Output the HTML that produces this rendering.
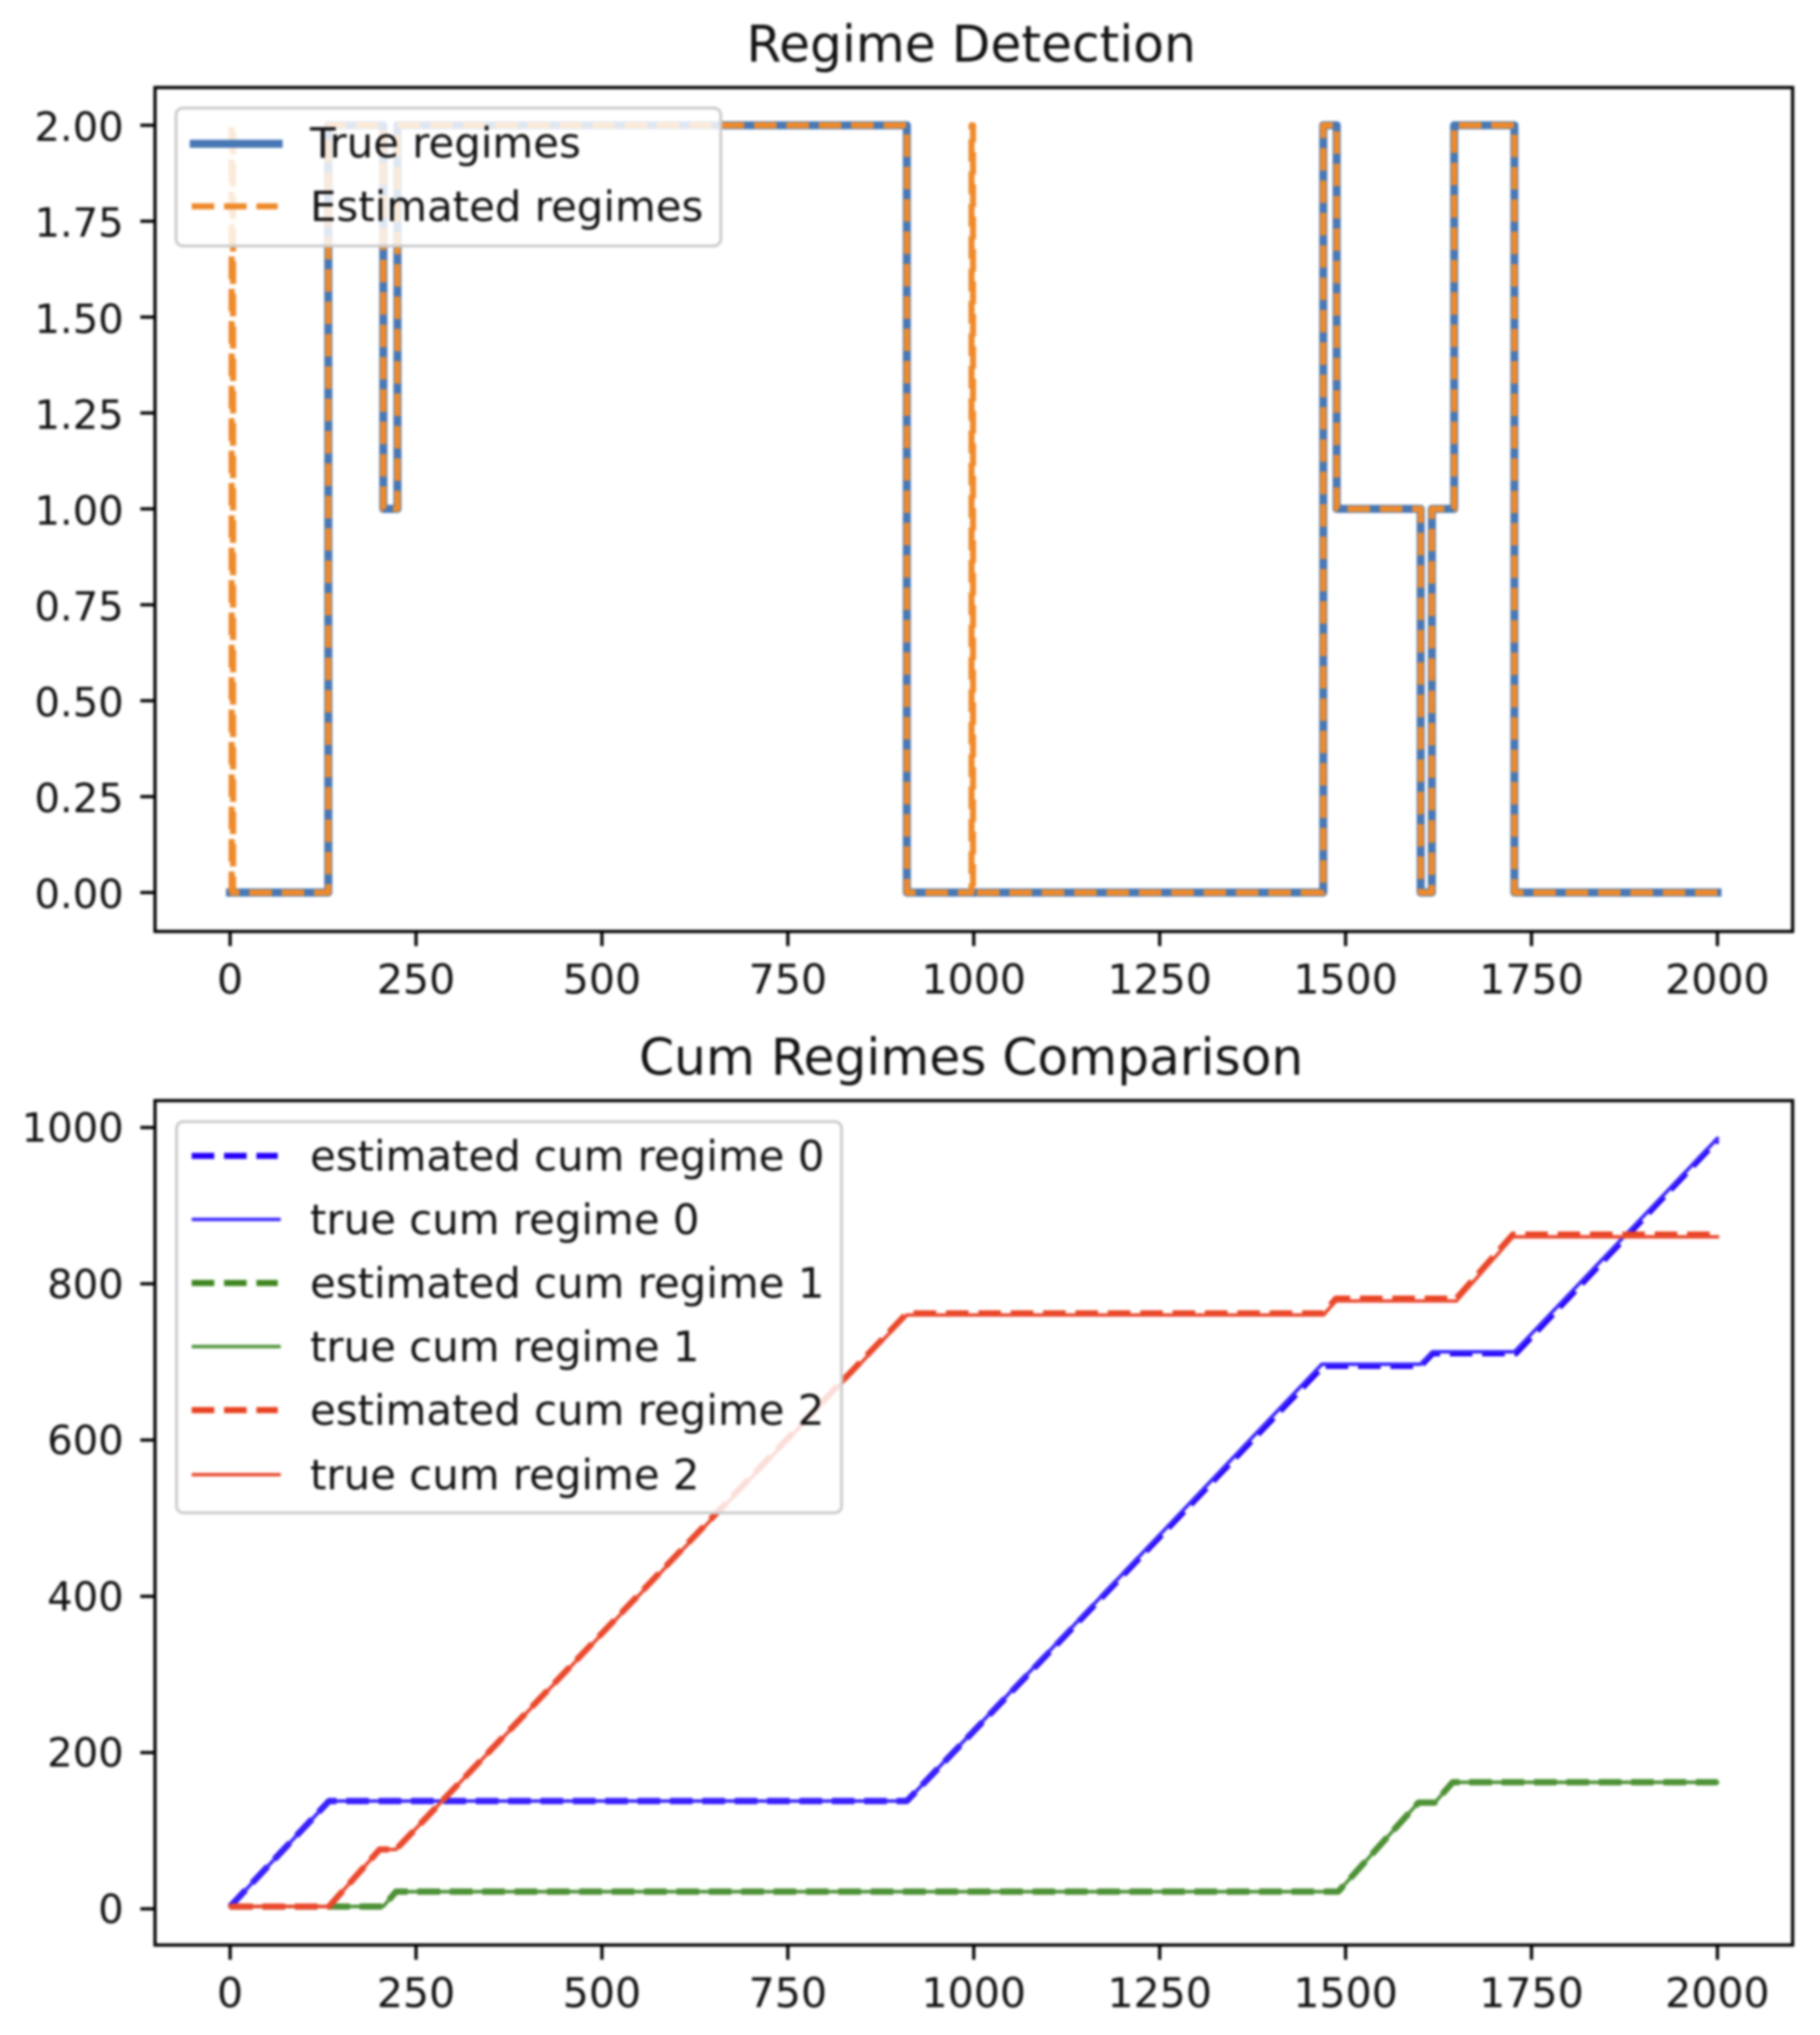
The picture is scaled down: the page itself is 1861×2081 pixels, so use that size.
<!DOCTYPE html>
<html lang="en">
<head>
<meta charset="utf-8">
<title>Regime Detection</title>
<style>
html,body{margin:0;padding:0;background:#fff;}
body{width:1861px;height:2081px;overflow:hidden;}
svg{display:block;filter:blur(1.2px);}
text{font-family:"DejaVu Sans","Liberation Sans",sans-serif;fill:#111;}
</style>
</head>
<body>
<svg id="chart" xmlns="http://www.w3.org/2000/svg" width="1861" height="2081" viewBox="0 0 1861 2081">
  <rect x="0" y="0" width="1861" height="2081" fill="#fff"></rect>

  <text x="993" y="63" font-size="51.4" text-anchor="middle">Regime Detection</text>
  <g id="top-marks"></g>
  <rect x="158.5" y="89.5" width="1674.5" height="863" fill="none" stroke="#000" stroke-width="3.3"></rect>
  <g id="top-ticks"></g>
  <g>
    <rect x="180" y="110.5" width="557" height="141" rx="7" fill="#fff" fill-opacity="0.82" stroke="#ccc" stroke-width="3"></rect>
    <line x1="194" y1="147" x2="289" y2="147" stroke="#4878b5" stroke-width="8.3"></line>
    <text x="317" y="161" font-size="42.8">True regimes</text>
    <line x1="196" y1="211" x2="284" y2="211" stroke="#ee8a2c" stroke-width="6.25" stroke-dasharray="23.1 10"></line>
    <text x="317" y="226" font-size="42.8">Estimated regimes</text>
  </g>

  <text x="993" y="1099" font-size="51.4" text-anchor="middle">Cum Regimes Comparison</text>
  <g id="bottom-marks"></g>
  <rect x="158.5" y="1125.5" width="1674.5" height="863.5" fill="none" stroke="#000" stroke-width="3.3"></rect>
  <g id="bottom-ticks"></g>
  <g>
    <rect x="180.5" y="1147" width="680" height="400" rx="7" fill="#fff" fill-opacity="0.82" stroke="#ccc" stroke-width="3"></rect>
    <line x1="196" y1="1182" x2="284" y2="1182" stroke="#2400f8" stroke-width="6.25" stroke-dasharray="23.1 10"></line>
    <text x="317" y="1197" font-size="42.8">estimated cum regime 0</text>
    <line x1="196" y1="1247" x2="287" y2="1247" stroke="#3a26fb" stroke-width="3.6"></line>
    <text x="317" y="1262" font-size="42.8">true cum regime 0</text>
    <line x1="196" y1="1312" x2="284" y2="1312" stroke="#3e861f" stroke-width="6.25" stroke-dasharray="23.1 10"></line>
    <text x="317" y="1327" font-size="42.8">estimated cum regime 1</text>
    <line x1="196" y1="1377" x2="287" y2="1377" stroke="#4f933a" stroke-width="3.6"></line>
    <text x="317" y="1392" font-size="42.8">true cum regime 1</text>
    <line x1="196" y1="1442" x2="284" y2="1442" stroke="#e84120" stroke-width="6.25" stroke-dasharray="23.1 10"></line>
    <text x="317" y="1457" font-size="42.8">estimated cum regime 2</text>
    <line x1="196" y1="1508" x2="287" y2="1508" stroke="#ea4a30" stroke-width="3.6"></line>
    <text x="317" y="1523" font-size="42.8">true cum regime 2</text>
  </g>
</svg>
<script>
// Shared x ticks
var xTicks = [0, 250, 500, 750, 1000, 1250, 1500, 1750, 2000];
var xTickLabels = ["0", "250", "500", "750", "1000", "1250", "1500", "1750", "2000"];

// Top chart: regime value starting at each change-point
var topYTicks = [0, 0.25, 0.5, 0.75, 1, 1.25, 1.5, 1.75, 2];
var topYTickLabels = ["0.00", "0.25", "0.50", "0.75", "1.00", "1.25", "1.50", "1.75", "2.00"];
var trueRegimeTimes = [0, 132, 206, 225, 910, 1470, 1488, 1601, 1616, 1646, 1727, 2000];
var trueRegimeValues = [0, 2, 1, 2, 0, 2, 1, 0, 1, 2, 0, 0];
var estRegimeTimes = [0, 2, 4, 132, 206, 225, 910, 997, 999, 1470, 1488, 1601, 1616, 1646, 1727, 2000];
var estRegimeValues = [0, 2, 0, 2, 1, 2, 0, 2, 0, 2, 1, 0, 1, 2, 0, 0];

// Bottom chart: cumulative counts read at their knots
var bottomYTicks = [0, 200, 400, 600, 800, 1000];
var bottomYTickLabels = ["0", "200", "400", "600", "800", "1000"];
var trueCum0Times = [0, 133, 910, 1468, 1601, 1617, 1727, 2000];
var trueCum0Values = [3, 138, 138, 697, 697, 713, 713, 986];
var estCum0Times = [0, 133, 910, 1470, 1601, 1617, 1729, 2000];
var estCum0Values = [3, 138, 138, 695, 695, 711, 711, 984];
var trueCum1Times = [0, 206, 223, 1490, 1598, 1620, 1644, 2000];
var trueCum1Values = [3, 3, 22, 22, 136, 136, 162, 162];
var estCum1Times = [0, 206, 223, 1490, 1598, 1620, 1644, 2000];
var estCum1Values = [3, 3, 22, 22, 136, 136, 162, 162];
var trueCum2Times = [0, 133, 201, 223, 910, 1470, 1487, 1649, 1725, 2000];
var trueCum2Values = [3, 3, 76, 76, 760, 760, 778, 778, 860, 860];
var estCum2Times = [0, 133, 201, 223, 910, 1470, 1487, 1649, 1725, 2000];
var estCum2Values = [3, 3, 76, 76, 762, 762, 781, 781, 863, 863];

var NS = 'http://www.w3.org/2000/svg';

function xScale(v) { return 235.3 + v * 0.7604; }
function yTop(v) { return 912.7 - v * 392.3; }
function yBottom(v) { return 1952 - v * 0.799; }

function addLine(parent, x1, y1, x2, y2) {
  var l = document.createElementNS(NS, 'line');
  l.setAttribute('x1', x1);
  l.setAttribute('y1', y1);
  l.setAttribute('x2', x2);
  l.setAttribute('y2', y2);
  l.setAttribute('stroke', '#000');
  l.setAttribute('stroke-width', '3.3');
  parent.appendChild(l);
  return l;
}

function addLabel(parent, x, y, anchor, str, size) {
  var t = document.createElementNS(NS, 'text');
  t.setAttribute('x', x);
  t.setAttribute('y', y);
  t.setAttribute('font-size', size);
  t.setAttribute('text-anchor', anchor);
  t.textContent = str;
  parent.appendChild(t);
  return t;
}

function drawTicks(groupId, axisBottom, yTicks, yLabels, yFn, labelOffset) {
  var g = document.getElementById(groupId);
  xTicks.forEach(function (v, i) {
    var px = xScale(v);
    var tick = addLine(g, px, axisBottom, px, axisBottom + 15);
    
    
    var lab = addLabel(g, px, axisBottom + 63.5, 'middle', xTickLabels[i], '42');
    
    
  });
  yTicks.forEach(function (v, i) {
    var py = yFn(v);
    var tick = addLine(g, 143.5, py, 158.5, py);
    
    
    var lab = addLabel(g, 126.5, py + labelOffset, 'end', yLabels[i], '41');
    
    
  });
}

function pathFrom(times, values, yFn) {
  return times.map(function (t, i) {
    return (i ? 'L' : 'M') + xScale(t).toFixed(2) + ' ' + yFn(values[i]).toFixed(2);
  }).join(' ');
}

function stepPath(times, values, yFn) {
  var d = '';
  times.forEach(function (t, i) {
    if (i === 0) {
      d += 'M' + xScale(t).toFixed(2) + ' ' + yFn(values[i]).toFixed(2);
    } else {
      d += ' L' + xScale(t).toFixed(2) + ' ' + yFn(values[i - 1]).toFixed(2);
      d += ' L' + xScale(t).toFixed(2) + ' ' + yFn(values[i]).toFixed(2);
    }
  });
  return d;
}

function addSeries(parent, d, color, width, dash) {
  var p = document.createElementNS(NS, 'path');
  p.setAttribute('d', d);
  p.setAttribute('fill', 'none');
  p.setAttribute('stroke', color);
  p.setAttribute('stroke-width', width);
  p.setAttribute('stroke-linejoin', 'round');
  if (dash) {
    p.setAttribute('stroke-dasharray', dash);
  } else {
    p.setAttribute('stroke-linecap', 'square');
  }
  parent.appendChild(p);
  return p;
}

var topGroup = document.getElementById('top-marks');
var trueRegimeLine = addSeries(topGroup, stepPath(trueRegimeTimes, trueRegimeValues, yTop), '#4878b5', 8.3);


var estRegimeLine = addSeries(topGroup, stepPath(estRegimeTimes, estRegimeValues, yTop), '#ee8a2c', 6.25, '23.1 10');



var bottomGroup = document.getElementById('bottom-marks');
var est0Line = addSeries(bottomGroup, pathFrom(estCum0Times, estCum0Values, yBottom), '#2400f8', 6.25, '23.1 10');


var true0Line = addSeries(bottomGroup, pathFrom(trueCum0Times, trueCum0Values, yBottom), '#3a26fb', 3.6);


var est1Line = addSeries(bottomGroup, pathFrom(estCum1Times, estCum1Values, yBottom), '#3e861f', 6.25, '23.1 10');


var true1Line = addSeries(bottomGroup, pathFrom(trueCum1Times, trueCum1Values, yBottom), '#4f933a', 3.6);


var est2Line = addSeries(bottomGroup, pathFrom(estCum2Times, estCum2Values, yBottom), '#e84120', 6.25, '23.1 10');


var true2Line = addSeries(bottomGroup, pathFrom(trueCum2Times, trueCum2Values, yBottom), '#ea4a30', 3.6);



drawTicks('top-ticks', 952.5, topYTicks, topYTickLabels, yTop, 16);
drawTicks('bottom-ticks', 1989, bottomYTicks, bottomYTickLabels, yBottom, 14.5);
</script>
</body>
</html>
